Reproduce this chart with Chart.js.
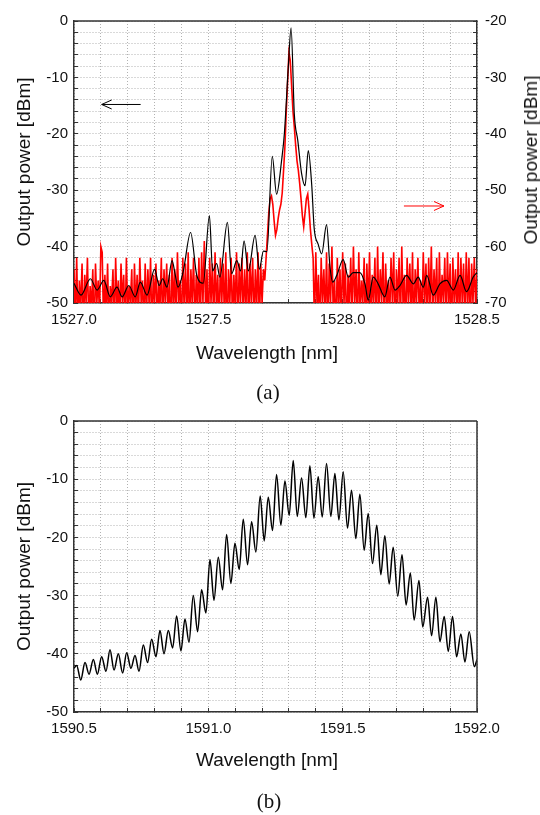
<!DOCTYPE html>
<html>
<head>
<meta charset="utf-8">
<script src="https://cdn.jsdelivr.net/npm/chart.js@4.4.0/dist/chart.umd.min.js"></script>
<style>
  body { margin: 0; background: #fff; width: 540px; height: 815px; position: relative; overflow: hidden;
         font-family: "Liberation Sans", Arial, sans-serif; color: #111; }
  .box { position: absolute; left: 0; width: 540px; }
  #boxA { top: 0; height: 370px; }
  #boxB { top: 400px; height: 380px; }
  .lbl { position: absolute; font-size: 19px; white-space: nowrap; transform: translate(-50%, -50%); }
  .cap { position: absolute; font-family: "Liberation Serif", "Times New Roman", serif; font-size: 21px;
         transform: translate(-50%, -50%); }
</style>
</head>
<body>
<div class="box" id="boxA"><canvas id="chartA"></canvas></div>
<div class="box" id="boxB"><canvas id="chartB"></canvas></div>

<div class="lbl" style="left:531px; top:160px; transform: translate(-50%, -50%) rotate(-90deg);">Output power [dBm]</div>
<div class="lbl" style="left:267px; top:353px;">Wavelength [nm]</div>
<div class="cap" style="left:268px; top:392px;">(a)</div>
<div class="lbl" style="left:267px; top:760px;">Wavelength [nm]</div>
<div class="cap" style="left:269px; top:801px;">(b)</div>

<script>
// ---- (a) black trace, left axis [dBm]
const blackWl = [1527.000, 1527.026, 1527.061, 1527.086, 1527.111, 1527.135, 1527.160, 1527.179, 1527.204, 1527.228,
                 1527.247, 1527.272, 1527.300, 1527.317, 1527.330, 1527.346, 1527.365, 1527.376, 1527.387, 1527.407,
                 1527.434, 1527.457, 1527.481, 1527.504, 1527.516, 1527.531, 1527.543, 1527.571, 1527.587, 1527.606,
                 1527.620, 1527.633, 1527.649, 1527.674, 1527.690, 1527.705, 1527.718, 1527.738, 1527.754, 1527.773,
                 1527.783, 1527.798, 1527.808, 1527.820, 1527.833, 1527.847, 1527.860, 1527.872, 1527.885, 1527.894,
                 1527.909, 1527.922, 1527.940, 1527.953, 1527.963, 1527.978, 1528.002, 1528.021, 1528.039, 1528.064,
                 1528.083, 1528.095, 1528.114, 1528.132, 1528.157, 1528.176, 1528.195, 1528.213, 1528.238, 1528.263,
                 1528.281, 1528.300, 1528.313, 1528.337, 1528.362, 1528.387, 1528.412, 1528.437, 1528.461, 1528.486,
                 1528.500];
const blackDbm = [-46.5, -48.6, -45.7, -47.7, -46.0, -48.9, -47.2, -48.9, -46.9, -48.9,
                  -46.3, -48.6, -44.0, -46.9, -45.7, -47.2, -42.5, -44.8, -47.2, -44.3,
                  -37.5, -45.1, -46.5, -34.5, -44.3, -43.0, -45.4, -35.7, -44.8, -42.5,
                  -44.3, -39.0, -44.3, -38.0, -44.0, -40.8, -40.9, -24.0, -30.7, -24.6,
                  -20.0, -7.9, -1.2, -16.5, -21.2, -27.0, -29.2, -23.0, -29.2, -36.8,
                  -39.6, -41.3, -36.1, -43.7, -46.3, -45.1, -42.3, -45.4, -44.6, -44.6,
                  -46.6, -49.5, -45.4, -46.6, -48.9, -45.4, -47.7, -46.9, -45.1, -46.6,
                  -45.4, -47.2, -45.1, -48.6, -46.6, -46.0, -47.7, -45.1, -48.0, -45.4,
                  -44.6];

// ---- (a) red trace, right axis [dBm], sampled every 5 pm
const redStep = 0.005;
const redLeftStart = 1527.000;
const redLeftDbm = [-64, -73, -62, -75, -66, -71, -63, -76, -65, -70,
                    -62, -74, -67, -71, -64, -77, -63, -70, -66, -72,
                    -60, -61, -74, -65, -72, -63, -75, -67, -70, -64,
                    -76, -62, -71, -66, -74, -63, -70, -65, -75, -62,
                    -72, -67, -70, -64, -77, -63, -71, -65, -73, -62,
                    -70, -66, -75, -63, -72, -64, -71, -62, -76, -65,
                    -70, -63, -74, -66, -71, -62, -75, -64, -70, -63,
                    -73, -65, -77, -62, -71, -64, -74, -61, -70, -66,
                    -75, -62, -71, -63, -73, -61, -76, -64, -70, -62,
                    -74, -65, -71, -62, -75, -61, -70, -59, -72, -64,
                    -76, -62, -70, -63, -74, -61, -71, -65, -75, -62,
                    -70, -63, -73, -61, -77, -64, -70, -62, -74, -65,
                    -71, -61, -75, -63, -70, -62, -73, -64, -71, -61,
                    -76, -63, -70, -62, -74, -64, -71, -61, -75, -63,
                    -70, -64, -66];
const redPeakStart = 1527.715;
const redPeakDbm = [-62, -58, -54, -51.5, -51, -52.5, -55.5, -58, -57, -55,
                    -53.5, -52.5, -50.5, -46.5, -42.3, -36, -30.8, -25.6, -27, -31.5,
                    -36, -38.8, -42, -44.8, -46.5, -48.8, -51.5, -54.5, -56.5, -54,
                    -51.5, -50.7, -53.5, -57, -59.6];
const redRightStart = 1527.890;
const redRightDbm = [-62, -74, -61, -71, -65, -76, -62, -70, -64, -73,
                     -61, -75, -63, -70, -60, -72, -66, -77, -62, -71,
                     -64, -74, -61, -70, -63, -76, -65, -71, -62, -73,
                     -60, -70, -64, -75, -61, -72, -66, -70, -62, -77,
                     -63, -71, -61, -74, -65, -70, -62, -76, -60, -72,
                     -64, -70, -61, -75, -63, -71, -66, -73, -62, -70,
                     -61, -77, -64, -70, -62, -74, -60, -71, -65, -75,
                     -62, -70, -63, -73, -61, -76, -64, -70, -62, -72,
                     -66, -74, -61, -70, -63, -75, -62, -71, -60, -73,
                     -64, -70, -62, -76, -61, -72, -65, -70, -62, -74,
                     -61, -71, -63, -77, -62, -70, -64, -73, -61, -75,
                     -62, -70, -63, -74, -61, -71, -62, -76, -63, -70,
                     -62, -71, -64];

// ---- (b) spectrum (peaks and troughs of the ripple)
const specWl = [1590.500, 1590.510, 1590.525, 1590.541, 1590.556, 1590.572, 1590.587, 1590.603, 1590.619, 1590.634,
                1590.649, 1590.665, 1590.681, 1590.696, 1590.712, 1590.727, 1590.742, 1590.758, 1590.774, 1590.789,
                1590.805, 1590.820, 1590.835, 1590.851, 1590.867, 1590.882, 1590.898, 1590.913, 1590.928, 1590.944,
                1590.960, 1590.975, 1590.991, 1591.006, 1591.021, 1591.037, 1591.053, 1591.068, 1591.084, 1591.099,
                1591.115, 1591.130, 1591.146, 1591.161, 1591.177, 1591.193, 1591.208, 1591.223, 1591.239, 1591.254,
                1591.270, 1591.285, 1591.301, 1591.316, 1591.331, 1591.347, 1591.363, 1591.378, 1591.393, 1591.409,
                1591.424, 1591.440, 1591.456, 1591.471, 1591.486, 1591.502, 1591.518, 1591.533, 1591.549, 1591.564,
                1591.580, 1591.595, 1591.611, 1591.627, 1591.642, 1591.657, 1591.673, 1591.688, 1591.705, 1591.721,
                1591.736, 1591.752, 1591.766, 1591.784, 1591.798, 1591.816, 1591.831, 1591.847, 1591.862, 1591.878,
                1591.893, 1591.909, 1591.924, 1591.940, 1591.955, 1591.971, 1591.990, 1592.000];
const specDbm = [-42.5, -42.0, -44.5, -41.5, -43.5, -41.0, -43.5, -40.5, -43.0, -39.3,
                 -42.8, -40.0, -43.3, -39.8, -42.5, -40.3, -43.0, -38.5, -41.5, -37.5,
                 -40.5, -36.0, -40.0, -36.0, -39.0, -33.5, -39.5, -34.0, -38.0, -30.0,
                 -36.2, -29.0, -33.0, -23.8, -30.8, -23.4, -29.0, -19.5, -27.9, -21.0,
                 -25.5, -16.9, -24.7, -17.3, -22.5, -12.9, -20.6, -13.1, -18.8, -9.2,
                 -17.9, -10.3, -16.2, -6.8, -16.4, -9.8, -16.6, -7.7, -16.7, -9.6,
                 -16.5, -7.3, -16.4, -9.0, -17.0, -8.7, -18.4, -11.9, -20.2, -12.6,
                 -22.2, -15.9, -24.5, -17.9, -26.4, -19.7, -28.0, -21.7, -30.1, -23.0,
                 -31.6, -26.1, -34.2, -27.4, -35.4, -30.3, -36.9, -30.3, -37.9, -33.6,
                 -39.6, -33.6, -40.5, -36.6, -41.4, -36.2, -42.2, -41.0];

const gridColor = '#b2b2b2';
const axisColor = '#333';
const tickFont = { family: 'Liberation Sans', size: 15 };
const titleFont = { family: 'Liberation Sans', size: 19, lineHeight: 1 };

function isMultiple(v, m) { return Math.abs(v / m - Math.round(v / m)) < 1e-6; }
function pairs(xs, ys) { return xs.map((x, i) => ({ x: x, y: ys[i] })); }
function sampled(start, vals) { return vals.map((v, i) => ({ x: +(start + i * redStep).toFixed(3), y: v })); }

function xAxis(min, max, h) {
  return {
    type: 'linear', position: 'bottom', min: min, max: max,
    afterFit: s => { s.height = h; },
    grid: { color: gridColor, lineWidth: 1, drawTicks: true, tickLength: -4, tickColor: axisColor, tickWidth: 1 },
    border: { display: true, color: axisColor, width: 1.5, dash: [1, 2] },
    ticks: { stepSize: 0.1, autoSkip: false, maxRotation: 0, padding: 12, color: '#111', font: tickFont,
             callback: v => isMultiple(v, 0.5) ? v.toFixed(1) : '' }
  };
}
function yAxis(pos, min, max, withGrid) {
  return {
    type: 'linear', position: pos, min: min, max: max,
    afterFit: s => { s.width = pos === 'left' ? 74 : 63; },
    grid: { display: true, drawOnChartArea: withGrid, color: gridColor, lineWidth: 1, drawTicks: true,
            tickLength: -4, tickColor: axisColor, tickWidth: 1 },
    border: { display: true, color: axisColor, width: 1.5, dash: [1, 2] },
    ticks: { stepSize: 2, autoSkip: false, padding: pos === 'left' ? 10 : 12, color: '#111', font: tickFont,
             callback: v => isMultiple(v, 10) ? String(v) : '' },
    title: { display: pos === 'left', text: 'Output power [dBm]', color: '#111', font: titleFont,
             padding: { top: 15, bottom: 0 } }
  };
}

const frame = {
  id: 'frame',
  afterDraw(chart, args, opts) {
    const { ctx, chartArea: a } = chart;
    ctx.save();
    ctx.strokeStyle = axisColor;
    ctx.lineWidth = 1.5;
    ctx.beginPath();
    ctx.moveTo(a.left, a.top); ctx.lineTo(a.right, a.top);
    if (opts.right) { ctx.moveTo(a.right, a.top); ctx.lineTo(a.right, a.bottom); }
    ctx.stroke();
    ctx.restore();
  }
};

function drawArrow(ctx, x0, x1, y, color) {
  const dir = Math.sign(x1 - x0);
  ctx.save();
  ctx.strokeStyle = color;
  ctx.lineWidth = 1;
  ctx.beginPath();
  ctx.moveTo(x0, y); ctx.lineTo(x1, y);
  ctx.moveTo(x1 - dir * 10, y - 4.5); ctx.lineTo(x1, y); ctx.lineTo(x1 - dir * 10, y + 4.5);
  ctx.stroke();
  ctx.restore();
}
const arrows = {
  id: 'arrows',
  afterDatasetsDraw(chart) {
    const { ctx, scales: { x, y, y2 } } = chart;
    drawArrow(ctx, x.getPixelForValue(1527.248), x.getPixelForValue(1527.103), y.getPixelForValue(-14.8), '#000');
    drawArrow(ctx, x.getPixelForValue(1528.228), x.getPixelForValue(1528.377), y2.getPixelForValue(-52.8), '#ff0000');
  }
};

const redData = [].concat(sampled(redLeftStart, redLeftDbm), sampled(redPeakStart, redPeakDbm),
                          sampled(redRightStart, redRightDbm));

new Chart(document.getElementById('chartA'), {
  type: 'line',
  data: {
    datasets: [
      { label: 'left', data: pairs(blackWl, blackDbm), yAxisID: 'y', borderColor: '#000', borderWidth: 1.2,
        pointRadius: 0, cubicInterpolationMode: 'monotone', fill: false },
      { label: 'right', data: redData, yAxisID: 'y2', borderColor: '#ff0000', borderWidth: 1.6,
        pointRadius: 0, tension: 0, fill: false }
    ]
  },
  options: {
    responsive: true,
    maintainAspectRatio: false,
    animation: false,
    layout: { padding: { top: 14.5, right: 0, bottom: 0, left: 0 } },
    plugins: { legend: { display: false }, tooltip: { enabled: false }, frame: { right: false } },
    scales: {
      x: xAxis(1527.0, 1528.5, 67),
      y: yAxis('left', -50, 0, true),
      y2: yAxis('right', -70, -20, false)
    }
  },
  plugins: [frame, arrows]
});

new Chart(document.getElementById('chartB'), {
  type: 'line',
  data: {
    datasets: [
      { label: 'spectrum', data: pairs(specWl, specDbm), borderColor: '#000', borderWidth: 1.5,
        pointRadius: 0, cubicInterpolationMode: 'monotone', fill: false }
    ]
  },
  options: {
    responsive: true,
    maintainAspectRatio: false,
    animation: false,
    layout: { padding: { top: 21, right: 63, bottom: 0, left: 0 } },
    plugins: { legend: { display: false }, tooltip: { enabled: false }, frame: { right: true } },
    scales: {
      x: xAxis(1590.5, 1592.0, 68),
      y: yAxis('left', -50, 0, true)
    }
  },
  plugins: [frame]
});
</script>
</body>
</html>
